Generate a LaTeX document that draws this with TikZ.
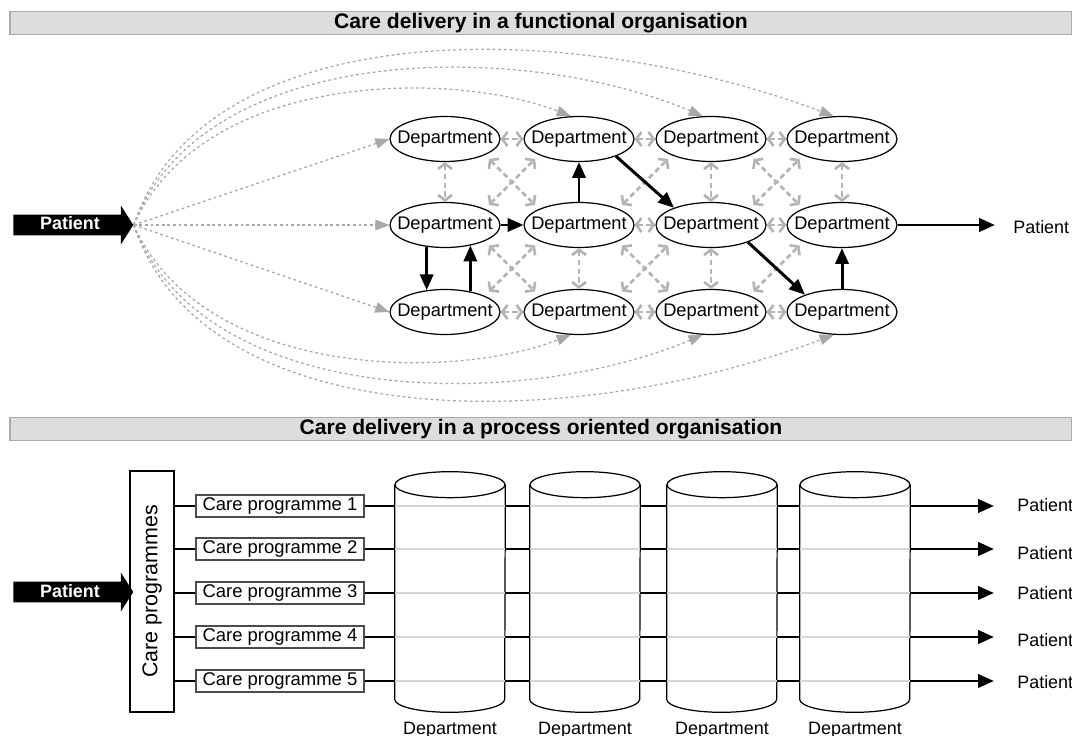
\documentclass[tikz,border=0pt]{standalone}
\usepackage{fontspec}
\setmainfont{Liberation Sans}
\usetikzlibrary{arrows.meta, shapes.geometric, shapes.arrows, positioning, calc}

\definecolor{barfill}{HTML}{DDDDDD}
\definecolor{barline}{HTML}{ABABAB}
\definecolor{linkgray}{HTML}{B4B4B4}
\definecolor{dotgray}{HTML}{A8A8A8}
\definecolor{thrugray}{HTML}{D6D6D6}

\begin{document}
\begin{tikzpicture}[
        x=0.02cm, y=-0.02cm,
        titlebar/.style={
            rectangle,
            draw=barline,
            fill=barfill,
            line width=0.8pt,
            minimum width=21.24cm,
            minimum height=0.45cm,
            inner sep=0pt,
            font=\bfseries\fontsize{12}{14}\selectfont
        },
        patient/.style={
            single arrow,
            fill=black,
            text=white,
            minimum height=2.4cm,
            single arrow head extend=0.18cm,
            single arrow tip angle=115,
            inner xsep=2pt,
            inner ysep=0pt,
            text height=0.3cm,
            text depth=0.1cm,
            font=\bfseries\fontsize{10.2}{12}\selectfont
        },
        dept/.style={
            ellipse,
            draw,
            line width=0.7pt,
            fill=white,
            minimum width=2.2cm,
            minimum height=0.9cm,
            inner xsep=-8pt,
            inner ysep=0pt,
            font=\fontsize{10.4}{12}\selectfont
        },
        deptcyl/.style={
            rectangle,
            minimum height=4.8cm,
            minimum width=2.2cm,
            inner sep=0pt,
            label={[label distance=2pt, font=\fontsize{10.2}{12}\selectfont]below:Department}
        },
        cylline/.style={draw, line width=0.7pt},
        groupbox/.style={
            rectangle,
            draw,
            line width=0.8pt,
            minimum width=0.88cm,
            minimum height=4.82cm,
            inner sep=0pt,
            font=\fontsize{12.2}{14}\selectfont
        },
        progbox/.style={
            rectangle,
            draw=black!70,
            line width=0.8pt,
            minimum width=3.36cm,
            minimum height=0.44cm,
            inner sep=0pt,
            font=\fontsize{10.5}{12}\selectfont
        },
        plain/.style={
            inner sep=0pt,
            font=\fontsize{10.2}{12}\selectfont
        },
        flow/.style={
            -{Triangle[length=9pt,width=7.5pt]},
            line width=1.7pt
        },
        link/.style={
            {Straight Barb[length=3pt,width=8pt]}-{Straight Barb[length=3pt,width=8pt]},
            draw=linkgray,
            line width=1.5pt,
            dash pattern=on 3pt off 2pt
        },
        reach/.style={
            -{Triangle[length=8pt,width=6pt]},
            draw=dotgray,
            line width=0.7pt,
            dash pattern=on 1.6pt off 1.6pt
        },
        bar/.style={line width=1.7pt},
        thru/.style={draw=thrugray, line width=1.7pt}
    ]

    \useasboundingbox (0,0) rectangle (1072,736);

    % functional organisation
    \node[titlebar] (top) at (541,23) {Care delivery in a functional organisation};
    \node[patient] (pat1) at (70,225) {Patient};

    \foreach \row/\yy in {1/139, 2/225, 3/312}
        \foreach \col/\xx in {1/445, 2/579, 3/711, 4/842}
            \node[dept] (r\row c\col) at (\xx,\yy) {Department};

    \node[plain, anchor=west] (done) at (1013,227) {Patient};

    % patient to every department
    \draw[reach] (pat1.tip) -- (r1c1.west);
    \draw[reach] (pat1.tip) -- (r2c1.west);
    \draw[reach] (pat1.tip) -- (r3c1.west);
    \draw[reach] (pat1.tip) .. controls +(70,-155) and +(-118,-46) .. (r1c2.110);
    \draw[reach] (pat1.tip) .. controls +(70,-185) and +(-180,-76) .. (r1c3.110);
    \draw[reach] (pat1.tip) .. controls +(70,-210) and +(-270,-101) .. (r1c4.110);
    \draw[reach] (pat1.tip) .. controls +(70,155) and +(-118,46) .. (r3c2.250);
    \draw[reach] (pat1.tip) .. controls +(70,185) and +(-180,76) .. (r3c3.250);
    \draw[reach] (pat1.tip) .. controls +(70,210) and +(-270,101) .. (r3c4.250);

    % possible links
    \foreach \row in {1,3}
        \foreach \a/\b in {1/2, 2/3, 3/4}
            \draw[link] (r\row c\a.east) -- (r\row c\b.west);
    \draw[link] (r2c2.east) -- (r2c3.west);
    \draw[link] (r2c3.east) -- (r2c4.west);
    \foreach \col in {1,3,4}
        \draw[link] (r1c\col.south) -- (r2c\col.north);
    \foreach \col in {2,3}
        \draw[link] (r2c\col.south) -- (r3c\col.north);
    \foreach \row/\nxt in {1/2, 2/3}
        \foreach \a/\b in {1/2, 2/3, 3/4}
            \coordinate (x\row\a) at ($(r\row c\a)!0.5!(r\nxt c\b)$);
    \foreach \c in {x11, x13, x21, x22}
        \draw[link] ($(\c)+(-23,-23)$) -- ($(\c)+(23,23)$);
    \foreach \c in {x11, x12, x13, x21, x22, x23}
        \draw[link] ($(\c)+(-23,23)$) -- ($(\c)+(23,-23)$);

    % actual route
    \draw[flow] (r2c1.east) -- (r2c2.west);
    \draw[flow] (r2c2.north) -- (r1c2.south);
    \draw[flow] (r1c2.-25) -- (r2c3.155);
    \draw[flow] (r2c1.230) -- (r3c1.130);
    \draw[flow] (r3c1.39) -- (r2c1.-39);
    \draw[flow] (r2c3.-25) -- (r3c4.155);
    \draw[flow] (r3c4.north) -- (r2c4.south);
    \draw[flow, shorten >=0.36cm] (r2c4.east) -- (r2c4.east -| done.west);

    % process oriented organisation
    \node[titlebar] (bottom) at (541,429) {Care delivery in a process oriented organisation};
    \node[patient] (pat2) at (70,592) {Patient};
    \node[groupbox] (cps) at (152,591.5) {\rotatebox{90}{Care programmes}};

    \foreach \i/\yy in {1/506, 2/549, 3/593, 4/637, 5/681}
        \node[progbox] (cp\i) at (280,\yy) {Care programme \i};
    \foreach \j/\xx in {1/450, 2/585, 3/722, 4/855} {
        \node[deptcyl] (dep\j) at (\xx,592) {};
        \draw[cylline] ($(dep\j.north)+(0,13)$) ellipse [x radius=55, y radius=13];
        \draw[cylline] ($(dep\j.north west)+(0,13)$) -- ($(dep\j.south west)+(0,-13)$)
            arc[start angle=180, end angle=0, x radius=55, y radius=13]
            -- ($(dep\j.north east)+(0,13)$);
    }
    \foreach \i/\yy in {1/505, 2/553, 3/593, 4/640, 5/682}
        \node[plain, anchor=west] (exit\i) at (1017,\yy) {Patient};

    \foreach \i in {1,...,5} {
        \draw[bar] (cps.east |- cp\i) -- (cp\i.west);
        \draw[bar] (cp\i.east) -- (cp\i -| dep1.west);
        \draw[bar] (cp\i -| dep1.east) -- (cp\i -| dep2.west);
        \draw[bar] (cp\i -| dep2.east) -- (cp\i -| dep3.west);
        \draw[bar] (cp\i -| dep3.east) -- (cp\i -| dep4.west);
        \draw[flow, shorten >=0.46cm] (cp\i -| dep4.east) -- (cp\i -| exit\i.west);
        \foreach \j in {1,...,4}
            \draw[thru] (cp\i -| dep\j.west) -- (cp\i -| dep\j.east);
    }

\end{tikzpicture}
\end{document}
